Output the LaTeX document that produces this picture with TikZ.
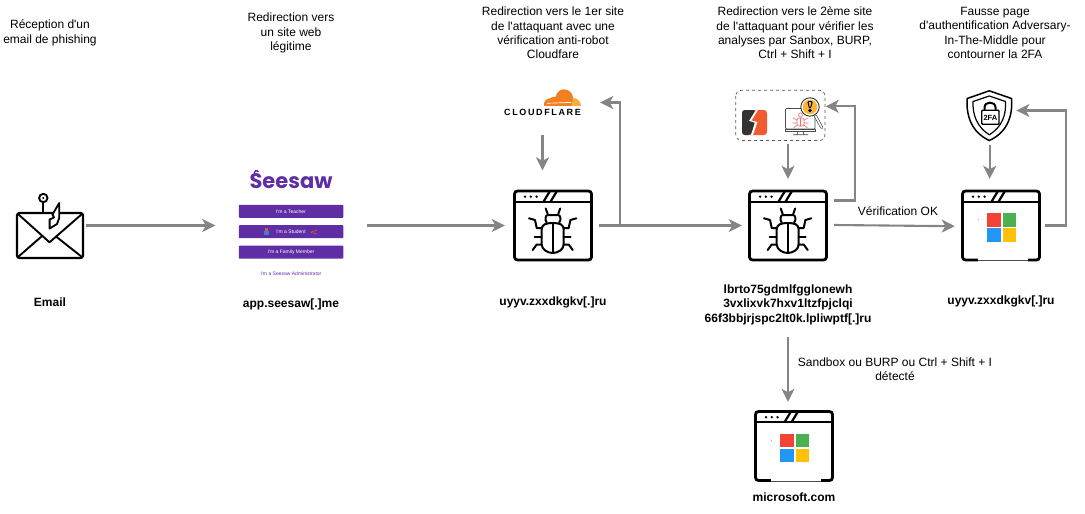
\documentclass[tikz,border=0pt]{standalone}
\usepackage{fontspec}
\setmainfont{Liberation Sans}[Ligatures=TeXOff]
\newfontfamily\popf{Poppins}
\usetikzlibrary{arrows.meta}
\definecolor{arrgray}{HTML}{858585}
\definecolor{seepurple}{HTML}{5F2EA5}
\definecolor{msred}{HTML}{F44336}
\definecolor{msgreen}{HTML}{4CAF50}
\definecolor{msblue}{HTML}{2196F3}
\definecolor{msyellow}{HTML}{FFC107}
\definecolor{cforange}{HTML}{F38020}
\definecolor{cflight}{HTML}{FBAD41}
\definecolor{burporange}{HTML}{F05A2E}
\definecolor{burpdark}{HTML}{333333}
\definecolor{bugpink}{HTML}{F06A6A}
\definecolor{loupe}{HTML}{F7B733}
\definecolor{stblue}{HTML}{3B82C4}
\definecolor{stred}{HTML}{E05A3A}
\tikzset{
 x=1pt,y=-1pt,
 conn/.style={draw=arrgray,line width=2.1pt,-{Stealth[length=13pt,width=13pt,inset=3.5pt]}},
 lbl/.style={align=center,inner sep=0pt,font=\fontsize{12}{14.4}\selectfont},
 blbl/.style={align=center,inner sep=0pt,font=\fontsize{12}{14.4}\selectfont\bfseries},
 iconbox/.style={inner sep=0pt,minimum width=#1},
 ln/.style={draw=black,line width=2.2pt,line cap=round,line join=round},
 bugln/.style={draw=black,line width=2pt,line cap=round,line join=round},
 btn/.style={fill=seepurple,rounded corners=0.8pt,inner sep=0pt,minimum width=104.5pt,minimum height=13pt,text=white,font=\fontsize{5}{6}\selectfont},
 pics/browser/.style={code={
  \draw[black,line width=2.8pt,rounded corners=3pt] (0,0) rectangle (77,69);
  \draw[black,line width=2.2pt] (0,10.7) -- (77,10.7);
  \draw[black,line width=2.2pt] (29,10.7) -- (35.5,0) (36,10.7) -- (42.5,0);
  \fill[black] (10.5,5.7) circle (1.3) (16.3,5.7) circle (1.3) (22,5.7) circle (1.3);
 }},
 pics/bug/.style={code={
  \draw[bugln] (-6,14) .. controls (-8,12) and (-7.5,6.5) .. (-5,6.5) -- (5.5,6.5) .. controls (8,6.5) and (8.5,12) .. (6.5,14);
  \draw[bugln] (-5,5.5) -- (-7,0) (5.5,5.5) -- (7.5,0);
  \draw[bugln] (-11,21) .. controls (-11,16) and (-7,14.5) .. (0,14.5) .. controls (7,14.5) and (11,16) .. (11,21) -- (11,36) .. controls (11,41) and (5,44.5) .. (0,44.5) .. controls (-5,44.5) and (-11,41) .. (-11,36) -- cycle;
  \draw[bugln] (0,14.5) -- (0,44.5);
  \draw[bugln] (-11,19.5) -- (-16,19.5) -- (-17.7,11.5) -- (-23.7,9.8);
  \draw[bugln] (11,19.5) -- (16,19.5) -- (17.7,11.5) -- (23.7,9.8);
  \draw[bugln] (-11,28) -- (-18,28);
  \draw[bugln] (11,28) -- (18,28);
  \draw[bugln] (-11,36) -- (-16,36) -- (-20,41.5);
  \draw[bugln] (11,36) -- (16,36) -- (20,41.5);
 }},
 pics/mslogo/.style={code={
  \fill[white] (15,66) rectangle (65,71);
  \draw[black!70,line width=0.8pt] (15,69.5) -- (65,69.5);
  \fill[black!35] (15.2,28) rectangle (15.8,29);
  \fill[msred] (24.5,22) rectangle +(13.5,13.5);
  \fill[msgreen] (40,22) rectangle +(13.5,13.5);
  \fill[msblue] (24.5,37.3) rectangle +(13.5,13.5);
  \fill[msyellow] (40,37.3) rectangle +(13.5,13.5);
 }},
}
\begin{document}
\begin{tikzpicture}
\useasboundingbox (0,0) rectangle (1085,514);
% text labels
\node[lbl] (t1) at (50,33) {Réception d'un\\email de phishing};
\node[lbl] (t2) at (291,33) {Redirection vers\\un site web\\légitime};
\node[lbl] (t3) at (553,33) {Redirection vers le 1er site\\de l'attaquant avec une\\vérification anti-robot\\Cloudfare};
\node[lbl] (t4) at (795,33) {Redirection vers le 2ème site\\de l'attaquant pour vérifier les\\analyses par Sanbox, BURP,\\Ctrl + Shift + I};
\node[lbl] (t5) at (995,33) {Fausse page\\d'authentification Adversary-\\In-The-Middle pour\\contourner la 2FA};
\node[blbl] (b1) at (50,302) {Email};
\node[blbl] (b2) at (291,304) {app.seesaw[.]me};
\node[blbl] (b3) at (553,302) {uyyv.zxxdkgkv[.]ru};
\node[blbl] (b4) at (788,304.5) {lbrto75gdmlfgglonewh\\3vxlixvk7hxv1ltzfpjclqi\\66f3bbjrjspc2lt0k.lpliwptf[.]ru};
\node[blbl] (b5) at (1001,301) {uyyv.zxxdkgkv[.]ru};
\node[blbl] (b6) at (794,497) {microsoft.com};
\node[lbl] (l1) at (898,211) {Vérification OK};
\node[lbl] (l2) at (895,369.5) {Sandbox ou BURP ou Ctrl + Shift + I\\détecté};
% invisible anchors
\node[iconbox=67pt,minimum height=46pt] (mail) at (50,235.5) {};
\node[iconbox=105pt,minimum height=110pt] (see) at (291,225.5) {};
\node[iconbox=78pt,minimum height=70pt] (w1) at (553,225.5) {};
\node[iconbox=78pt,minimum height=70pt] (w2) at (788,225.5) {};
\node[iconbox=78pt,minimum height=70pt] (w3) at (1001,225.5) {};
\node[iconbox=78pt,minimum height=70pt] (w4) at (794,446) {};
\node[iconbox=80pt,minimum height=36pt] (cf) at (542.5,103) {};
\node[iconbox=89.5pt,minimum height=50.5pt] (sb) at (780.3,115.3) {};
\node[iconbox=46pt,minimum height=51pt] (fa) at (989.7,116) {};
% email
\draw[ln,rounded corners=2.5pt] (17,213) rectangle (83,258);
\draw[ln,line width=1.9pt] (18,214) -- (49.5,242.3) -- (82,214);
\draw[ln,line width=1.9pt] (18,257) -- (41.5,236.5) (82,257) -- (56,236.5);
\draw[black,line width=1.9pt] (43.3,198) circle (4.2);
\draw[black,line width=1.9pt] (43.3,202.2) -- (43.3,213);
\fill[black] (43.3,198) circle (1.1);
\draw[ln,line width=1.8pt,fill=white] (59.2,203) -- (59.2,218) -- (57,224) -- (49.6,228.6) -- (49.6,219.5) -- (54,217.5) -- (52.5,214.5) -- cycle;
% seesaw
\node[inner sep=0pt,text=seepurple,font=\popf\fontsize{21}{24}\selectfont\bfseries] (seelogo) at (291,181.5) {Seesaw};
\draw[seepurple,line width=1.4pt] (254.5,175) .. controls (253.5,170.5) and (257,169.5) .. (258.5,172);
\node[btn] (bt1) at (291,211.3) {I'm a Teacher};
\node[btn] (bt2) at (291,231.7) {I'm a Student};
\node[btn] (bt3) at (291,252.2) {I'm a Family Member};
\fill[stblue] (263.5,230.5) rectangle (268.5,234.5);
\fill[stred] (265,228) rectangle (267.5,230.5);
\draw[stred,line width=0.6pt] (311,232) -- (317,230) (311,232.5) -- (317,234);
\node[inner sep=0pt,text=seepurple,font=\fontsize{5}{6}\selectfont] (bt4) at (291,273.8) {I'm a Seesaw Administrator};
% windows
\path (514.5,191) pic {browser};
\path (552.7,208.5) pic {bug};
\path (749.5,191) pic {browser};
\path (787.7,208.5) pic {bug};
\path (962.5,191) pic {browser};
\path (962.5,191) pic {mslogo};
\path (755.5,411.5) pic {browser};
\path (755.5,411.5) pic {mslogo};
% cloudflare
\fill[cforange] (544,105.8) .. controls (543.5,101.5) and (546,98.8) .. (550,98.3) .. controls (552,96.5) and (554,96.5) .. (555.5,97) .. controls (557,91) and (561,89.3) .. (564,89.3) .. controls (569,89.3) and (572.5,93) .. (573,97.5) .. controls (573.5,100) and (572.5,103) .. (571.5,105.8) -- cycle;
\fill[cflight] (571.5,105.8) .. controls (572.5,103) and (573.5,100.5) .. (573,98) .. controls (577.5,98) and (581,101.5) .. (581,105.8) -- cycle;
\fill[white] (547,103) -- (571,102) -- (571.3,102.8) -- (547,103.6) -- cycle;
\node[inner sep=0pt,font=\fontsize{9}{9}\selectfont\bfseries\addfontfeatures{LetterSpace=18}] (cft) at (542.5,112) {CLOUDFLARE};
% sandbox box
\draw[black!65,line width=0.7pt,dash pattern=on 3pt off 3pt,rounded corners=6pt] (735.7,90.2) rectangle (825,140.5);
\fill[burporange,rounded corners=3pt] (742,110) rectangle (767,135);
\fill[burpdark,rounded corners=3pt] (742,110) -- (756,110) -- (749,121) -- (755,122.5) -- (751,135) -- (742,135) -- cycle;
\fill[white] (756,110) -- (758,110) -- (751.5,120.5) -- (757.5,122) -- (753,135) -- (751,135) -- (755,122.5) -- (749,121) -- cycle;
\draw[black!70,line width=0.7pt,rounded corners=1pt,fill=white] (785.5,108.5) rectangle (815,129);
\draw[black!70,line width=0.7pt,fill=white] (785,129) rectangle (815.5,131.5);
\draw[black!70,line width=0.7pt] (798,131.5) -- (797,134.5) (803,131.5) -- (804,134.5) (793,134.8) -- (808,134.8);
\draw[bugpink,line width=0.6pt] (800.5,115) circle (2);
\draw[bugpink,line width=0.6pt,rounded corners=2pt] (797,118) rectangle (804,126);
\draw[bugpink,line width=0.6pt] (800.5,118) -- (800.5,126) (797,120) -- (793,118) (804,120) -- (808,118) (797,123) -- (792.5,123) (804,123) -- (808.5,123) (797,125) -- (793.5,128) (804,125) -- (807.5,128);
\draw[black!70,line width=3pt,line cap=round] (815.5,116) -- (821.7,127.5);
\draw[white,line width=1.6pt,line cap=round] (815.5,116) -- (821.7,127.5);
\draw[black!80,line width=0.9pt,fill=white] (810,107) circle (9.2);
\fill[loupe] (810,107) circle (7.3);
\draw[black,line width=1pt] (808,102.5) .. controls (808,101) and (812,101) .. (812,102.5) -- (810.7,107.5) -- (809.3,107.5) -- cycle;
\draw[black,line width=1pt] (810,110.5) circle (1.2);
% 2FA shield
\draw[black,line width=1.5pt,line join=round,fill=white] (989.3,90.8) -- (1011.5,98.5) .. controls (1012.8,115) and (1008,132) .. (989.3,140.5) .. controls (971,132) and (966,115) .. (967.2,98.5) -- cycle;
\draw[black,line width=1.2pt,line join=round] (989.3,96) -- (1005.5,101.5) .. controls (1006.3,115) and (1002,127) .. (989.3,134.8) .. controls (977,127) and (972.5,115) .. (973,101.5) -- cycle;
\draw[black,line width=2pt] (984.5,110) -- (984.5,107.5) .. controls (984.5,101) and (995.5,101) .. (995.5,107.5) -- (995.5,110);
\draw[black,line width=1.3pt,rounded corners=0.8pt,fill=white] (981.8,110.3) rectangle (999,124.2);
\node[inner sep=0pt,text=black,font=\fontsize{7.5}{8}\selectfont\bfseries] (fat) at (990.4,117.5) {2FA};
% connectors
\draw[conn] ([xshift=2pt]mail.east |- see.west) -- ([xshift=-23pt]see.west);
\draw[conn] ([xshift=23.5pt]see.east) -- ([xshift=-9pt]w1.west);
\draw[conn] ([xshift=7pt]w1.east) -- ([xshift=-7pt]w2.west);
\draw[conn] ([xshift=7pt]w1.east) -| ([xshift=37pt]cf.east) |- ([xshift=17.5pt,yshift=0.5pt]cf.east);
\draw[conn] ([yshift=-14pt]cf.south) -- ([yshift=20pt]w1.north -| cf.south);
\draw[conn] ([xshift=7.7pt,yshift=-3.5pt]sb.south) -- ([yshift=11.5pt]w2.north);
\draw[conn] ([xshift=7pt,yshift=25pt]w2.east) -| ([xshift=29.5pt,yshift=9pt]sb.east) -- ([yshift=9pt,xshift=0.5pt]sb.east);
\draw[conn] ([xshift=7pt,yshift=0.5pt]w2.east) -- ([xshift=-7pt,yshift=-0.7pt]w3.west);
\draw[conn] ([yshift=-3pt]fa.south) -- ([yshift=11.5pt]w3.north -| fa.south);
\draw[conn] ([xshift=5pt]w3.east) -| ([xshift=53pt,yshift=5.5pt]fa.east) -- ([xshift=3.5pt,yshift=5.5pt]fa.east);
\draw[conn] ([yshift=-76.5pt]w2.south) -- ([yshift=9pt,xshift=-6pt]w4.north);
\end{tikzpicture}
\end{document}
